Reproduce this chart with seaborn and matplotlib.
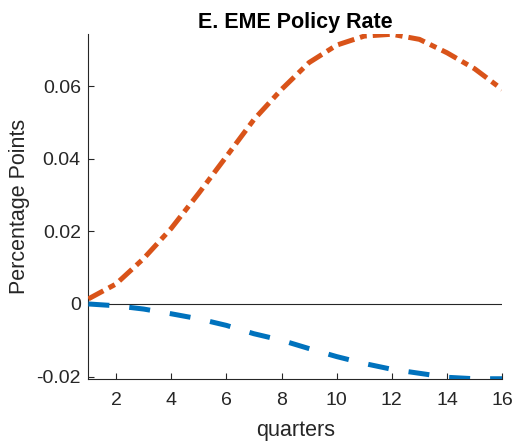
import numpy as np
import pandas as pd
import matplotlib
matplotlib.use("Agg")
import matplotlib.pyplot as plt
import seaborn as sns

quarters = list(range(1, 17))
orange_vals = [0.0014, 0.0055, 0.0125, 0.0208, 0.0305, 0.0406, 0.0508, 0.0591,
               0.0665, 0.0713, 0.0738, 0.0743, 0.0729, 0.0692, 0.0648, 0.0591]
blue_vals = [0.0000, -0.0005, -0.0014, -0.0027, -0.0041, -0.0059, -0.0082, -0.0100,
             -0.0123, -0.0145, -0.0164, -0.0180, -0.0191, -0.0202, -0.0206, -0.0206]
xticks = [2, 4, 6, 8, 10, 12, 14, 16]
yticks = [-0.02, 0, 0.02, 0.04, 0.06]
ytick_labels = ["-0.02", "0", "0.02", "0.04", "0.06"]

sns.set_style("ticks")
plt.rcParams['font.family'] = ['Liberation Sans', 'DejaVu Sans']

df_o = pd.DataFrame({"q": quarters, "v": orange_vals})
df_b = pd.DataFrame({"q": quarters, "v": blue_vals})

fig = plt.figure(figsize=(5.14, 4.46), dpi=100)
ax = fig.add_axes([0.172, 0.150, 0.805, 0.774])

ax.axhline(0, color="#262626", lw=0.8, zorder=1)
sns.lineplot(data=df_o, x="q", y="v", ax=ax, color="#D95319", lw=3.6,
             dashes=False, zorder=3)
sns.lineplot(data=df_b, x="q", y="v", ax=ax, color="#0072BD", lw=3.6,
             dashes=False, zorder=3)
lines = ax.get_lines()
lines[1].set_dashes((3.4, 1.2, 1.4, 1.2))
lines[1].set_dash_capstyle("butt")
lines[2].set_dashes((4.2, 4.0))
lines[2].set_dash_capstyle("butt")

ax.set_xlim(1, 16)
ax.set_ylim(-0.0207, 0.0744)
ax.set_xticks(xticks)
ax.set_yticks(yticks)
ax.set_yticklabels(ytick_labels)
ax.tick_params(direction="in", length=4, width=0.8, colors="#262626",
               labelsize=14, pad=5.5)
ax.tick_params(axis="x", pad=9)
for s in ["top", "right"]:
    ax.spines[s].set_visible(False)
for s in ["left", "bottom"]:
    ax.spines[s].set_color("#262626")
    ax.spines[s].set_linewidth(0.8)

ax.set_xlabel("quarters", fontsize=15.5, color="#262626", labelpad=8)
ax.set_ylabel("Percentage Points", fontsize=15.5, color="#262626", labelpad=4.5)
ax.set_title("E. EME Policy Rate", fontsize=15.5, fontweight="bold", color="black", pad=4)

fig.savefig("out.png", dpi=100)
